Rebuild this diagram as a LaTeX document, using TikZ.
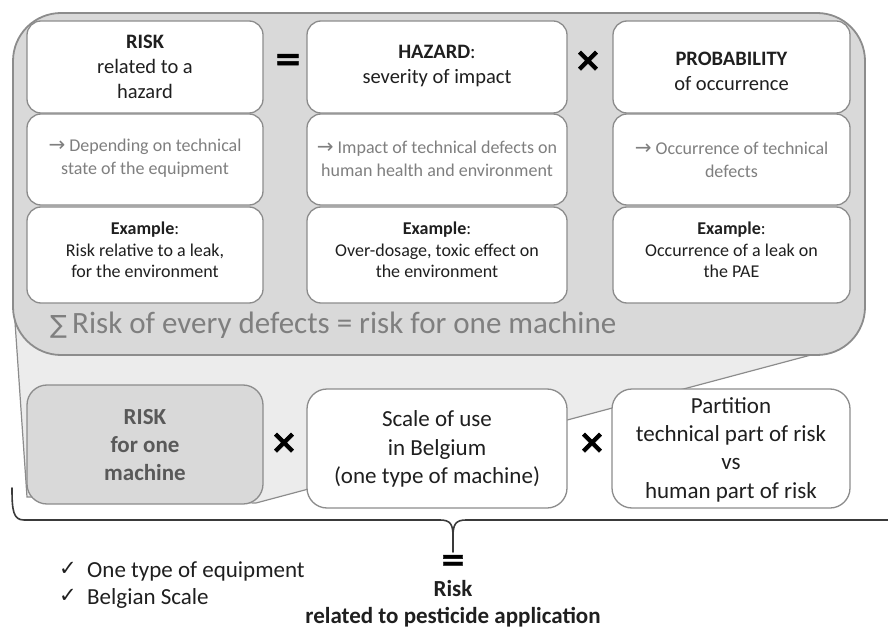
\documentclass[tikz,border=0pt]{standalone}
\usepackage{fontspec}
\setmainfont{Carlito}
\newfontfamily\symfont{DejaVu Sans}
\newfontfamily\opfont[BoldFeatures={FakeBold=1.2}]{DejaVu Sans}
\definecolor{panelgray}{HTML}{D9D9D9}
\definecolor{wedgegray}{HTML}{ECECEC}
\definecolor{edgegray}{HTML}{8C8C8C}
\definecolor{softtext}{HTML}{7F7F7F}
\definecolor{darktext}{HTML}{1F1F1F}
\definecolor{risktext}{HTML}{595959}
\definecolor{bracegray}{HTML}{3A3A3A}
\begin{document}
\begin{tikzpicture}[x=1pt,y=-1pt,
  cell/.style={draw=edgegray, line width=1.3pt, fill=white, rounded corners=14pt, inner sep=0pt},
  bigcell/.style={cell, rounded corners=20pt, minimum height=119pt},
  headtxt/.style={align=center, text=darktext, font=\fontsize{20.5}{25}\selectfont, inner sep=0pt},
  notetxt/.style={align=center, text=softtext, font=\fontsize{18}{23}\selectfont, inner sep=0pt},
  exampletxt/.style={align=center, text=darktext, font=\fontsize{18}{21.5}\selectfont, inner sep=0pt},
  lowtxt/.style={align=center, text=darktext, font=\fontsize{23}{28.3}\selectfont, inner sep=0pt},
  optxt/.style={text=black, inner sep=0pt, font=\opfont\bfseries\fontsize{33}{33}\selectfont},
  bracepath/.style={draw=bracegray, line width=1.6pt, line cap=round, line join=round}]
\useasboundingbox (0,0) rectangle (888,628);

% zoom wedge linking the detail panel to the machine-risk box
\coordinate (wl) at (13.5,300);
\coordinate (wr) at (811,355);
\coordinate (tipl) at (27,497);
\coordinate (tipr) at (256,503);
\path[fill=wedgegray, draw=edgegray, line width=1.2pt] (wl) -- (tipl) -- (tipr) -- (wr) -- cycle;

% detail panel
\node[draw=edgegray, line width=1.8pt, fill=panelgray, rounded corners=48pt,
      minimum width=852pt, minimum height=342pt, inner sep=0pt] (panel) at (439,184) {};

% row 1: the three factors
\node[cell, minimum width=236pt, minimum height=92pt] (r11) at (145,67) {};
\node[cell, minimum width=260pt, minimum height=92pt] (r12) at (437,67) {};
\node[cell, minimum width=237pt, minimum height=92pt] (r13) at (731.5,67) {};
% row 2: descriptions
\node[cell, minimum width=236pt, minimum height=91pt] (r21) at (145,159.5) {};
\node[cell, minimum width=260pt, minimum height=91pt] (r22) at (437,159.5) {};
\node[cell, minimum width=237pt, minimum height=91pt] (r23) at (731.5,159.5) {};
% row 3: examples
\node[cell, minimum width=236pt, minimum height=96pt] (r31) at (145,255) {};
\node[cell, minimum width=260pt, minimum height=96pt] (r32) at (437,255) {};
\node[cell, minimum width=237pt, minimum height=96pt] (r33) at (731.5,255) {};

\node[headtxt] (t11) at (145,67) {\textbf{RISK}\\related to a\\hazard};
\node[headtxt] (t12) at (437,66) {\textbf{HAZARD}:\\severity of impact};
\node[headtxt] (t13) at (731.5,71) {\textbf{PROBABILITY}\\of occurrence};

\node[notetxt] (t21) at (145,158.5) {{\symfont\fontsize{20}{18}\selectfont →} Depending on technical\\state of the equipment};
\node[notetxt] (t22) at (437,158.5) {{\symfont\fontsize{20}{18}\selectfont →} Impact of technical defects on\\human health and environment};
\node[notetxt] (t23) at (731.5,159.5) {{\symfont\fontsize{20}{18}\selectfont →} Occurrence of technical\\defects};

\node[exampletxt] (t31) at (145,250) {\textbf{Example}:\\Risk relative to a leak,\\for the environment};
\node[exampletxt] (t32) at (437,250) {\textbf{Example}:\\Over-dosage, toxic effect on\\the environment};
\node[exampletxt] (t33) at (731.5,250) {\textbf{Example}:\\Occurrence of a leak on\\the PAE};

\node[optxt] (eqtop) at (288,62) {=};
\node[optxt] (multop) at (588,61) {×};

\node[anchor=west, inner sep=0pt, text=softtext, font=\fontsize{31}{33}\selectfont] (sumtext) at (50,325)
  {{\symfont\fontsize{25}{25}\selectfont ∑}\,Risk of every defects = risk for one machine};

% bottom row: overall product
\node[bigcell, fill=panelgray, minimum width=236pt] (machine) at (145,444.5) {};
\node[bigcell, minimum width=260pt] (scale) at (437,448.5) {};
\node[bigcell, minimum width=238pt] (partition) at (731,448.5) {};

\node[lowtxt, text=risktext, font=\bfseries\fontsize{23}{28}\selectfont] (machinetxt) at (145,445) {RISK\\for one\\machine};
\node[lowtxt] (scaletxt) at (437,449) {Scale of use\\in Belgium\\(one type of machine)};
\node[lowtxt] (partitiontxt) at (731,449.5) {Partition\\technical part of risk\\vs\\human part of risk};

\node[optxt] (multa) at (284,443) {×};
\node[optxt] (multb) at (592,443) {×};

% brace gathering the bottom row
\coordinate (bl) at (12,488);
\coordinate (bt) at (453,552);
\coordinate (br) at (888,520);
\path[bracepath] (bl) .. controls (12,510) and (13,520) .. (24,520) -- (440,520)
  .. controls (450,520) and (453,524) .. (453,536) -- (bt);
\path[bracepath] (453,536) .. controls (453,524) and (456,520) .. (466,520) -- (br);

\node[optxt, font=\opfont\bfseries\fontsize{31}{31}\selectfont, text height=12pt, text depth=0pt] (eqbottom) at (453,564) {=};
\node[inner sep=0pt, text=darktext, font=\bfseries\fontsize{23}{27}\selectfont, align=center] (result) at (453,604)
  {Risk\\related to pesticide application};

\node[inner sep=0pt, text=darktext, font=\symfont\fontsize{21}{21}\selectfont] (chk1) at (68,569) {✓};
\node[inner sep=0pt, text=darktext, font=\symfont\fontsize{21}{21}\selectfont] (chk2) at (68,596) {✓};
\node[anchor=west, inner sep=0pt, text=darktext, font=\fontsize{23}{27}\selectfont] (scope1) at (87,571) {One type of equipment};
\node[anchor=west, inner sep=0pt, text=darktext, font=\fontsize{23}{27}\selectfont] (scope2) at (87,598) {Belgian Scale};
\end{tikzpicture}
\end{document}
